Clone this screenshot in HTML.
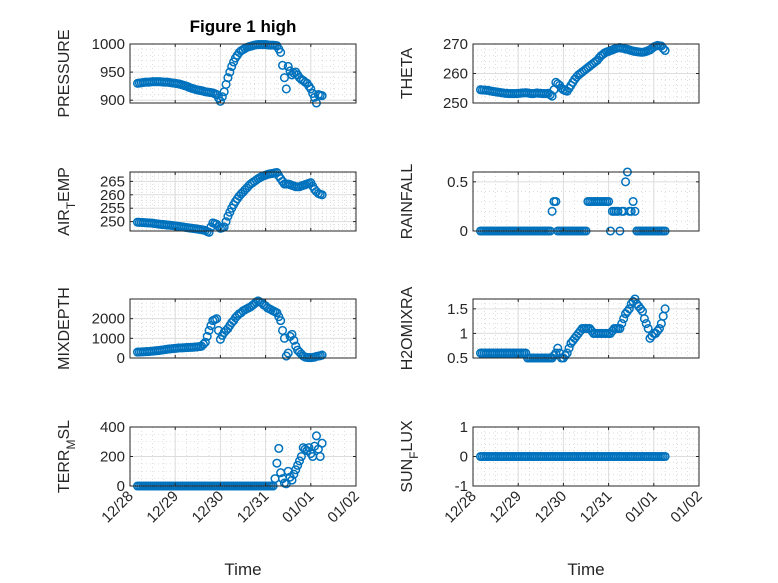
<!DOCTYPE html>
<html><head><meta charset="utf-8"><style>
body{margin:0;background:#fff;}
svg{display:block;font-family:"Liberation Sans","DejaVu Sans",sans-serif;}
</style></head><body>
<svg id="fig" width="778" height="583" viewBox="0 0 778 583"></svg>
<script>
// shared time axis: hours since 12/28 00:00
const hours = [4,5,6,7,8,9,10,11,12,13,14,15,16,17,18,19,20,21,22,23,24,25,26,27,28,29,30,31,32,33,34,35,36,37,38,39,40,41,42,43,44,45,46,47,48,49,50,51,52,53,54,55,56,57,58,59,60,61,62,63,64,65,66,67,68,69,70,71,72,73,74,75,76,77,78,79,80,81,82,83,84,85,86,87,88,89,90,91,92,93,94,95,96,97,98,99,100,101,102];
const xTickLabels = ["12/28","12/29","12/30","12/31","01/01","01/02"];
const pressure = [930,930.5,931,931.5,932,932,932,932.5,933,933,933,933,933,932.5,932,932,932,931.5,931,930.5,
930,929.5,929,928,927,926,925,923.5,922,921,920,919,918,917.5,917,916,915,914.5,914,913.5,
913,911.5,910,904,898,906,915,928,940,950,960,968,975,980,985,988,990,992,994,995,
996,997,998,998.5,999,999,999,999,999,998.5,998,998,998,997.5,997,991,985,962,940,920,
960,952,945,948,950,945,940,937,935,932,930,925,920,912,905,895,910,909,908];
const theta = [254.5,254.4,254.4,254.3,254.3,254.1,254,253.9,253.8,253.7,253.6,253.5,253.4,253.3,253.3,253.2,253.2,253.2,253.2,253.2,
253.3,253.3,253.4,253.4,253.5,253.4,253.3,253.2,253.2,253.3,253.4,253.3,253.3,253.2,253.2,253.2,253.3,252.8,252.3,254.5,
257,256.5,256,255,254.5,254.2,254,255,256,257,258,258.8,259.5,260,260.5,261,261.5,262,262.5,263,
263.5,264,264.5,265.3,266,266.5,267,267.3,267.5,267.8,268,268.3,268.5,268.7,268.8,268.6,268.5,268.3,268.2,268,
267.8,267.6,267.5,267.4,267.3,267.2,267.2,267.3,267.5,267.8,268,268.5,269,269.3,269.5,269.4,269.3,268.5,267.8];
const airTemp = [249.8,249.75,249.7,249.65,249.6,249.55,249.5,249.45,249.4,249.3,249.2,249.1,249,248.95,248.9,248.8,248.7,248.65,248.6,248.5,
248.4,248.3,248.2,248.1,248,247.9,247.8,247.7,247.6,247.5,247.4,247.3,247.2,247.1,247,246.85,246.7,246.3,246,248,
249.5,249.3,249,248.2,247.5,247.7,248,250,252,253.5,255,256.3,257.5,258.5,259.5,260.3,261,261.8,262.5,263.3,
264,264.5,265,265.5,266,266.4,266.8,267.1,267.3,267.6,267.8,267.9,268,268.2,268.3,267,266,265,264,264,
264,263.8,263.5,263.3,263,263,263,263.3,263.5,263.8,264,264.3,264.5,263.2,262,261.2,260.5,260.2,260];
const rainfall = [0,0,0,0,0,0,0,0,0,0,0,0,0,0,0,0,0,0,0,0,0,0,0,0,0,0,0,0,0,0,0,0,0,0,0,0,0,0,
0.2,0.3,0.3,0,
0,0,0,0,0,0,0,0,0,0,0,0,0,0,0,
0.3,0.3,0.3,0.3,0.3,0.3,0.3,0.3,0.3,0.3,0.3,0.3,
0,0.2,0.2,0.2,0.2,0,0.2,0.2,0.5,0.6,0.2,0.2,0.3,0.2,
0,0,0,0,0,0,0,0,0,0,0,0,0,0,0,0];
const mixDepth = [300,305,310,315,320,325,330,340,350,360,370,380,390,405,420,435,450,460,470,480,
490,500,510,515,520,525,530,535,540,545,550,560,570,585,600,700,800,1100,1400,1650,
1900,1950,2000,1400,950,1150,1300,1400,1500,1650,1800,1900,2050,2150,2250,2300,2400,2450,2500,2550,
2600,2680,2750,2850,2900,2850,2800,2700,2650,2550,2500,2450,2400,2350,2300,2100,1900,1400,1000,100,
250,1100,1200,900,600,400,300,200,100,50,30,20,20,30,50,80,100,120,150];
const h2oMix = [0.6,0.6,0.6,0.6,0.6,0.6,0.6,0.6,0.6,0.6,0.6,0.6,0.6,0.6,0.6,0.6,0.6,0.6,0.6,0.6,0.6,0.6,0.6,0.6,0.6,
0.5,0.5,0.5,0.5,0.5,0.5,0.5,0.5,0.5,0.5,0.5,0.5,0.5,0.5,
0.55,0.6,0.7,0.6,0.5,0.5,0.55,0.6,0.7,0.8,0.85,0.9,0.95,1.0,1.05,1.1,1.1,1.1,1.1,1.1,1.05,
1.0,1.0,1.0,1.0,1.0,1.0,1.0,1.0,1.0,1.0,
1.05,1.1,1.1,1.1,1.1,1.2,1.3,1.4,1.45,1.5,1.6,1.65,1.7,1.6,1.55,1.5,1.45,1.3,1.2,1.1,0.9,0.95,1.0,1.0,1.05,1.1,1.2,1.35,1.5];
const terrMsl = [0,0,0,0,0,0,0,0,0,0,0,0,0,0,0,0,0,0,0,0,0,0,0,0,0,0,0,0,0,0,0,0,0,0,0,0,0,0,0,0,0,0,0,0,0,0,0,0,0,0,0,0,0,0,0,0,0,0,0,0,0,0,0,0,0,0,0,0,0,0,0,0,0,
50,155,255,90,50,20,15,100,60,40,80,110,140,170,200,260,250,240,260,220,200,270,340,250,200,290];
const sunFlux = [0,0,0,0,0,0,0,0,0,0,0,0,0,0,0,0,0,0,0,0,0,0,0,0,0,0,0,0,0,0,0,0,0,0,0,0,0,0,0,0,0,0,0,0,0,0,0,0,0,0,0,0,0,0,0,0,0,0,0,0,0,0,0,0,0,0,0,0,0,0,0,0,0,0,0,0,0,0,0,0,0,0,0,0,0,0,0,0,0,0,0,0,0,0,0,0,0,0,0];

const NS="http://www.w3.org/2000/svg";
const svg=document.getElementById('fig');
function mk(tag,attrs,parent){const e=document.createElementNS(NS,tag);for(const k in attrs)e.setAttribute(k,attrs[k]);(parent||svg).appendChild(e);return e;}

const colX=[130,473], W=226, rowY=[44,172,299,427], H=59;
const panels=[
 {key:'pressure',data:pressure,c:0,r:0,ylim:[895,1000],ticks:[900,950,1000],minor:10,label:['PRESSURE']},
 {key:'theta',data:theta,c:1,r:0,ylim:[250,270],ticks:[250,260,270],minor:2,label:['THETA']},
 {key:'air-temp',data:airTemp,c:0,r:1,ylim:[246.5,268.5],ticks:[250,255,260,265],minor:1,label:['AIR','T','EMP']},
 {key:'rainfall',data:rainfall,c:1,r:1,ylim:[0,0.6],ticks:[0,0.5],minor:0.1,label:['RAINFALL']},
 {key:'mixdepth',data:mixDepth,c:0,r:2,ylim:[0,3000],ticks:[0,1000,2000],minor:200,label:['MIXDEPTH']},
 {key:'h2omixra',data:h2oMix,c:1,r:2,ylim:[0.5,1.7],ticks:[0.5,1,1.5],minor:0.1,label:['H2OMIXRA']},
 {key:'terr-msl',data:terrMsl,c:0,r:3,ylim:[0,400],ticks:[0,200,400],minor:50,label:['TERR','M','SL']},
 {key:'sun-flux',data:sunFlux,c:1,r:3,ylim:[-1,1],ticks:[-1,0,1],minor:0.2,label:['SUN','F','LUX']}
];

panels.forEach(p=>{
  const x0=colX[p.c], y0=rowY[p.r];
  const xs=h=>x0+h/120*W;
  const ys=v=>y0+H-(v-p.ylim[0])/(p.ylim[1]-p.ylim[0])*H;
  const g=mk('g',{});
  
  
  mk('rect',{x:x0,y:y0,width:W,height:H,fill:'#fff'},g);
  for(let h=6;h<120;h+=6){ if(h%24===0)continue; mk('line',{x1:xs(h),x2:xs(h),y1:y0,y2:y0+H,stroke:'#c8c8c8','stroke-width':0.6,'stroke-dasharray':'1 3'},g);}
  const st=Math.ceil(p.ylim[0]/p.minor-1e-9);
  for(let k=st;k*p.minor<=p.ylim[1]+1e-9;k++){const v=k*p.minor; if(p.ticks.some(t=>Math.abs(t-v)<1e-9))continue; mk('line',{x1:x0,x2:x0+W,y1:ys(v),y2:ys(v),stroke:'#c8c8c8','stroke-width':0.6,'stroke-dasharray':'1 3'},g);}
  for(let d=1;d<5;d++) mk('line',{x1:xs(d*24),x2:xs(d*24),y1:y0,y2:y0+H,stroke:'#dcdcdc','stroke-width':1},g);
  p.ticks.forEach(t=>{ if(t===p.ylim[0]||t===p.ylim[1])return; mk('line',{x1:x0,x2:x0+W,y1:ys(t),y2:ys(t),stroke:'#dcdcdc','stroke-width':1},g);});
  p.data.forEach((v,i)=>{
    const c=mk('circle',{cx:xs(hours[i]),cy:ys(v),r:3.8,fill:'none',stroke:'#0072BD','stroke-width':1.5},g);
    
    
  });
  const b=mk('rect',{x:x0,y:y0,width:W,height:H,fill:'none',stroke:'#262626','stroke-width':1},g);
  
  
  for(let d=0;d<=5;d++){
    mk('line',{x1:xs(d*24),x2:xs(d*24),y1:y0+H,y2:y0+H-3,stroke:'#262626'},g);
    mk('line',{x1:xs(d*24),x2:xs(d*24),y1:y0,y2:y0+3,stroke:'#262626'},g);
  }
  p.ticks.forEach(t=>{
    mk('line',{x1:x0,x2:x0+3,y1:ys(t),y2:ys(t),stroke:'#262626'},g);
    mk('line',{x1:x0+W,x2:x0+W-3,y1:ys(t),y2:ys(t),stroke:'#262626'},g);
    const tx=mk('text',{x:x0-5,y:ys(t)+5,'text-anchor':'end','font-size':15,fill:'#262626'},g);
    tx.textContent=String(t);
    
    
  });
  const lx=p.c===0?69:412, ly=y0+H/2;
  const yl=mk('text',{x:lx,y:ly,'text-anchor':'middle','font-size':16,fill:'#262626',transform:`rotate(-90 ${lx} ${ly})`},g);
  
  
  if(p.label.length===1) yl.textContent=p.label[0];
  else{
    const a=mk('tspan',{},yl);a.textContent=p.label[0];
    const s=mk('tspan',{dy:6,'font-size':12},yl);s.textContent=p.label[1];
    const e=mk('tspan',{dy:-6},yl);e.textContent=p.label[2];
  }
  if(p.r===3){
    xTickLabels.forEach((l,d)=>{
      const tx0=xs(d*24)+4, ty0=y0+H+11;
      const t=mk('text',{x:tx0,y:ty0,'text-anchor':'end','font-size':15,fill:'#262626',transform:`rotate(-45 ${tx0} ${ty0})`},g);
      t.textContent=l;
      
      
    });
    const xt=mk('text',{x:x0+W/2,y:575,'text-anchor':'middle','font-size':17,fill:'#262626'},g);
    xt.textContent='Time';
    
    
  }
});
const title=mk('text',{x:243,y:32,'text-anchor':'middle','font-size':17,'font-weight':'bold',fill:'#000'});
title.textContent='Figure 1 high';


</script>
</body></html>
